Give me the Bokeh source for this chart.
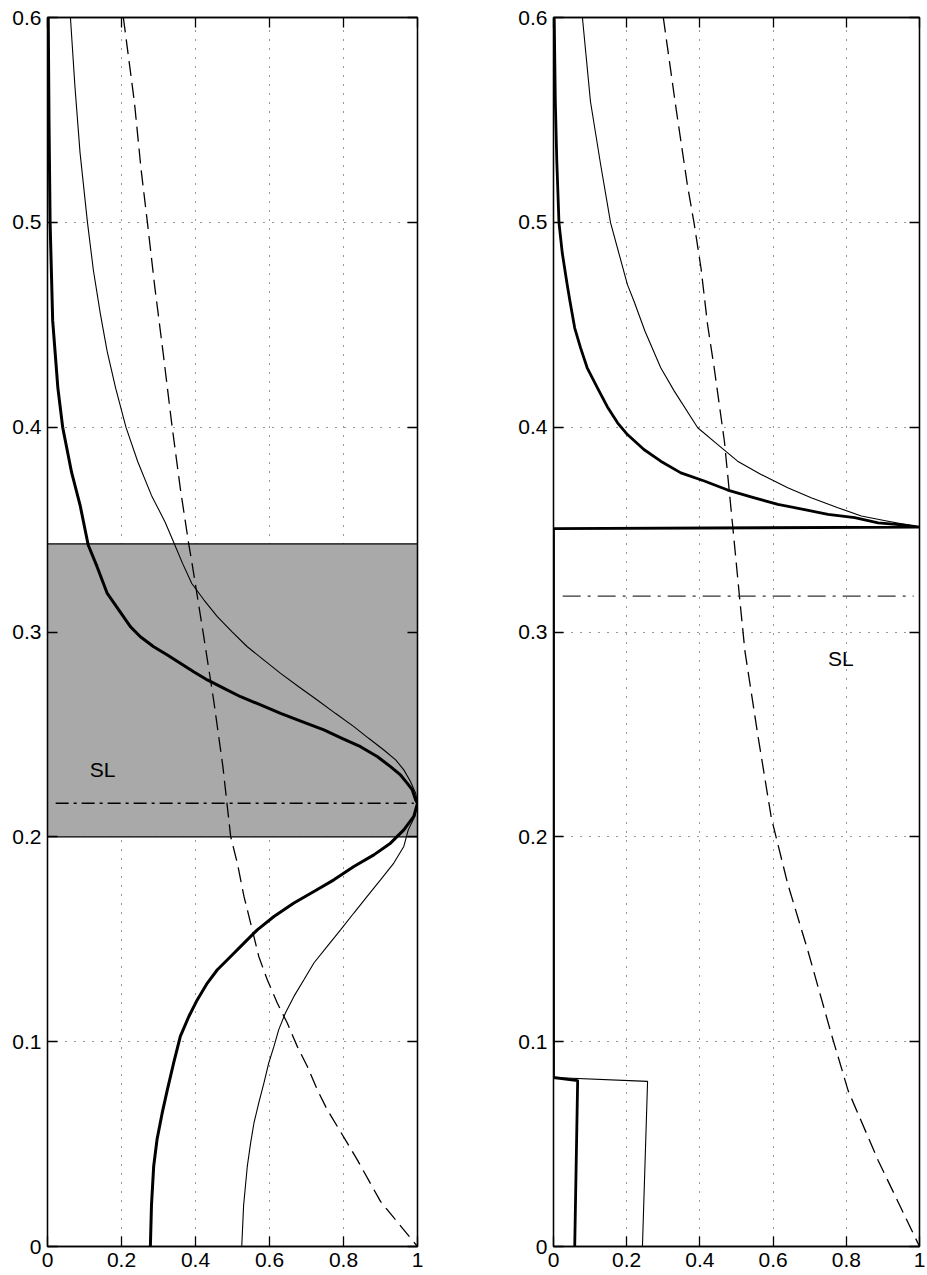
from bokeh.plotting import figure
from bokeh.layouts import row
from bokeh.models import LinearAxis, FixedTicker, CustomJSTickFormatter, Range1d
from bokeh.core.properties import value
from bokeh.embed import file_html
from bokeh.resources import INLINE

FONT = "Liberation Sans"

# ---- left panel: profiles against depth (y) ----
left_thick_y = [0.6, 0.55, 0.5, 0.452, 0.4192, 0.4, 0.378, 0.362, 0.3425, 0.3319, 0.319,
                0.3107, 0.3026, 0.2977, 0.2928, 0.2888, 0.2847, 0.2806, 0.2766, 0.2725, 0.2684,
                0.2644, 0.2603, 0.2562, 0.2522, 0.2481, 0.244, 0.2392, 0.2343, 0.2302, 0.2262,
                0.2229, 0.218, 0.2164, 0.21, 0.2034, 0.1969, 0.1912, 0.1855, 0.179, 0.1733,
                0.1677, 0.1611, 0.1546, 0.1481, 0.1416, 0.1351, 0.1286, 0.1205, 0.1123, 0.1026,
                0.0896, 0.0766, 0.0652, 0.0522, 0.0392, 0.02, 0.0]
left_thick_x = [0.002, 0.004, 0.007, 0.014, 0.028, 0.041, 0.065, 0.088, 0.11, 0.134, 0.161,
                0.193, 0.224, 0.251, 0.287, 0.324, 0.359, 0.395, 0.432, 0.477, 0.522,
                0.576, 0.63, 0.688, 0.747, 0.796, 0.846, 0.891, 0.927, 0.954, 0.972,
                0.986, 0.995, 1.0, 0.99, 0.963, 0.927, 0.882, 0.828, 0.774, 0.72,
                0.666, 0.612, 0.567, 0.531, 0.495, 0.459, 0.432, 0.405, 0.382, 0.359,
                0.341, 0.324, 0.31, 0.296, 0.287, 0.281, 0.278]

left_thin_y = [0.6, 0.5667, 0.5339, 0.5, 0.4766, 0.4552, 0.4372, 0.4192, 0.4, 0.3831, 0.3667,
               0.3536, 0.343, 0.3335, 0.3237, 0.3156, 0.3075, 0.3001, 0.2928, 0.2863, 0.2798,
               0.2733, 0.2668, 0.2603, 0.2538, 0.2481, 0.2424, 0.2376, 0.2327, 0.227, 0.2213,
               0.2164, 0.21, 0.2034, 0.1953, 0.1872, 0.179, 0.1709, 0.1628, 0.1546, 0.1465,
               0.1384, 0.1302, 0.1221, 0.114, 0.1059, 0.0977, 0.0896, 0.0799, 0.0701, 0.0603,
               0.0506, 0.0392, 0.02, 0.0]
left_thin_x = [0.062, 0.074, 0.088, 0.108, 0.124, 0.143, 0.161, 0.184, 0.212, 0.244, 0.281,
               0.318, 0.343, 0.365, 0.39, 0.423, 0.459, 0.499, 0.54, 0.585, 0.63,
               0.679, 0.729, 0.778, 0.828, 0.868, 0.909, 0.941, 0.963, 0.981, 0.995,
               1.0, 0.993, 0.975, 0.963, 0.936, 0.9, 0.864, 0.828, 0.792, 0.756,
               0.72, 0.693, 0.666, 0.643, 0.625, 0.612, 0.598, 0.585, 0.571, 0.558,
               0.549, 0.54, 0.53, 0.525]

left_dash_y = [0.6, 0.5585, 0.5257, 0.5, 0.4684, 0.4356, 0.4028, 0.37, 0.3438, 0.332, 0.2993,
               0.2668, 0.2343, 0.2002, 0.1872, 0.1709, 0.1579, 0.1416, 0.1302, 0.1189, 0.1091,
               0.0977, 0.088, 0.0766, 0.0668, 0.0587, 0.0506, 0.0424, 0.022, 0.0]
left_dash_x = [0.205, 0.235, 0.253, 0.27, 0.29, 0.313, 0.335, 0.359, 0.381, 0.392, 0.421,
               0.449, 0.474, 0.495, 0.513, 0.531, 0.549, 0.571, 0.594, 0.621, 0.648,
               0.675, 0.702, 0.729, 0.756, 0.783, 0.81, 0.837, 0.9, 1.0]

left_band = [0.2, 0.343]          # shaded layer (bottom, top)
left_sl_level = 0.2164            # dash-dot level
left_sl_span = [0.022, 0.99]
left_label = (0.114, 0.233, "SL")

# ---- right panel ----
right_thick_y = [0.6, 0.559, 0.53, 0.4997, 0.485, 0.47, 0.4615, 0.4484, 0.4387, 0.429, 0.4192,
                 0.41, 0.4021, 0.3964, 0.3891, 0.3834, 0.3777, 0.3737, 0.3693, 0.3655, 0.3623,
                 0.3598, 0.3574, 0.3558, 0.3533, 0.3522, 0.3512, 0.3505, 0.0825, 0.081, 0.0]
right_thick_x = [0.002, 0.005, 0.009, 0.015, 0.024, 0.037, 0.045, 0.058, 0.074, 0.092, 0.12,
                 0.147, 0.175, 0.202, 0.247, 0.293, 0.348, 0.412, 0.476, 0.549, 0.613,
                 0.686, 0.75, 0.823, 0.887, 0.96, 1.0, 0.0, 0.0, 0.066, 0.058]

right_thin_y = [0.6, 0.559, 0.528, 0.4997, 0.4696, 0.4615, 0.4468, 0.429, 0.4176, 0.3997, 0.3916,
                0.3834, 0.3769, 0.3704, 0.3655, 0.3607, 0.3566, 0.3541, 0.3512, 0.3505,
                0.0825, 0.0806, 0.0]
right_thin_x = [0.079, 0.101, 0.129, 0.156, 0.202, 0.22, 0.25, 0.293, 0.33, 0.394, 0.448,
                0.503, 0.567, 0.64, 0.704, 0.777, 0.841, 0.914, 1.0, 0.0,
                0.0, 0.257, 0.243]

right_dash_y = [0.6, 0.5566, 0.518, 0.4997, 0.4777, 0.45, 0.429, 0.393, 0.351, 0.3176, 0.2907,
                0.25, 0.2094, 0.177, 0.1444, 0.1038, 0.0761, 0.042, 0.0]
right_dash_x = [0.30, 0.334, 0.366, 0.384, 0.403, 0.421, 0.439, 0.467, 0.49, 0.508, 0.523,
                0.558, 0.595, 0.64, 0.695, 0.759, 0.805, 0.887, 1.0]

right_sl_level = 0.3175
right_sl_span = [0.025, 0.984]
right_label = (0.75, 0.2873, "SL")

x_ticks = [0, 0.2, 0.4, 0.6, 0.8, 1.0]
y_ticks = [0, 0.1, 0.2, 0.3, 0.4, 0.5, 0.6]

LABEL_FMT = CustomJSTickFormatter(code="""
    if (Math.abs(tick) < 1e-9) return "0";
    if (Math.abs(tick - 1) < 1e-9) return "1";
    return tick.toFixed(1);
""")
BLANK_FMT = CustomJSTickFormatter(code="return '';")


def style_axis(ax, ticks, fmt, standoff):
    ax.ticker = FixedTicker(ticks=ticks)
    ax.formatter = fmt
    ax.major_tick_in = 10
    ax.major_tick_out = 0
    ax.minor_tick_line_color = None
    ax.axis_line_width = 1.3
    ax.major_tick_line_width = 1.3
    ax.major_label_text_font = FONT
    ax.major_label_text_font_size = "21px"
    ax.major_label_text_color = "black"
    ax.major_label_standoff = standoff


def make_panel(width, border_l, border_r, border_t, border_b):
    p = figure(width=width, height=1275, output_backend="svg", toolbar_location=None,
               x_range=Range1d(0, 1), y_range=Range1d(0, 0.6),
               min_border_left=border_l, min_border_right=border_r,
               min_border_top=border_t, min_border_bottom=border_b,
               x_axis_location=None, y_axis_location=None)
    p.outline_line_color = "black"
    p.outline_line_width = 1.3
    p.background_fill_color = "white"
    p.border_fill_color = "white"

    xb = LinearAxis()
    style_axis(xb, x_ticks, LABEL_FMT, 6)
    p.add_layout(xb, "below")
    yl = LinearAxis()
    style_axis(yl, y_ticks, LABEL_FMT, 6)
    p.add_layout(yl, "left")
    xt = LinearAxis()
    style_axis(xt, x_ticks, BLANK_FMT, 0)
    p.add_layout(xt, "above")
    yr = LinearAxis()
    style_axis(yr, y_ticks, BLANK_FMT, 0)
    p.add_layout(yr, "right")

    for g, t in ((p.xgrid, x_ticks), (p.ygrid, y_ticks)):
        g.ticker = FixedTicker(ticks=t)
        g.grid_line_color = "#333333"
        g.grid_line_dash = "1 8"
        g.grid_line_width = 1
    return p


# Left panel
p1 = make_panel(467, 47, 50, 17, 28)
p1.quad(left=[0], right=[1], bottom=[left_band[0]], top=[left_band[1]],
        fill_color="#a9a9a9", line_color="black", line_width=1.3)
p1.line(left_dash_x, left_dash_y, line_color="black", line_width=1.3, line_dash="15 7")
p1.line(left_thin_x, left_thin_y, line_color="black", line_width=1.1)
p1.line(left_thick_x, left_thick_y, line_color="black", line_width=3, line_join="round")
p1.line(left_sl_span, [left_sl_level, left_sl_level], line_color="black", line_width=1.3,
        line_dash="13 5 3 5")
p1.text(x=[left_label[0]], y=[left_label[1]], text=[left_label[2]], text_font=value(FONT),
        text_font_size="21px", text_baseline="middle", text_align="left", text_color="black")

# Right panel
p2 = make_panel(460, 86, 8, 16, 29)
p2.line(right_dash_x, right_dash_y, line_color="black", line_width=1.3, line_dash="15 7")
p2.line(right_thin_x, right_thin_y, line_color="black", line_width=1.1)
p2.line(right_thick_x, right_thick_y, line_color="black", line_width=2.8, line_join="round")
p2.line(right_sl_span, [right_sl_level, right_sl_level], line_color="#333333", line_width=1.3,
        line_dash="18 7 3 7")
p2.text(x=[right_label[0]], y=[right_label[1]], text=[right_label[2]], text_font=value(FONT),
        text_font_size="21px", text_baseline="middle", text_align="left", text_color="black")

layout = row(p1, p2, spacing=0)
open("out.html", "w").write(file_html(layout, INLINE))
